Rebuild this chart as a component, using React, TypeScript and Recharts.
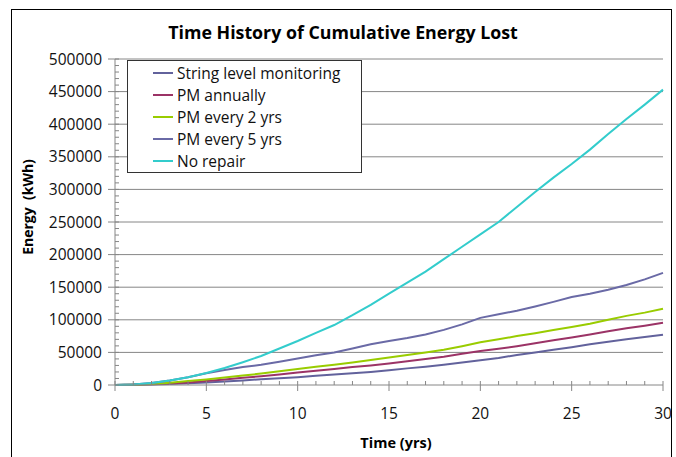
import React from 'react'
import { LineChart, Line, XAxis, YAxis, ReferenceLine, Legend } from 'recharts'

const years = [0, 1, 2, 3, 4, 5, 6, 7, 8, 9, 10, 11, 12, 13, 14, 15, 16, 17, 18, 19, 20, 21, 22, 23, 24, 25, 26, 27, 28, 29, 30]

const stringLevel = [0, 200, 600, 1500, 2600, 4000, 5500, 7000, 8800, 10500, 12000, 14000, 16000, 18000, 20000, 22500, 25500, 28000, 31000, 34500, 38000, 41500, 46000, 50000, 54000, 58000, 62500, 66500, 70000, 73500, 77000]
const pmAnnually = [0, 300, 1000, 2200, 4000, 6000, 8500, 11000, 13500, 16000, 19000, 22000, 24500, 27500, 30000, 33000, 36500, 40000, 43500, 48000, 52000, 55500, 59500, 64000, 68500, 73000, 77500, 82500, 87000, 91000, 95500]
const pm2yrs = [0, 500, 1500, 3500, 6000, 8500, 11500, 14500, 17500, 21000, 24500, 28000, 31000, 34500, 38500, 42000, 46000, 50000, 54000, 59500, 65500, 70000, 75000, 79500, 84500, 89000, 94000, 100000, 106000, 111000, 117000]
const pm5yrs = [0, 800, 3000, 6800, 12000, 18000, 23000, 27500, 31000, 35500, 40500, 45500, 50000, 56000, 62500, 67500, 72000, 77500, 84500, 93000, 103000, 108500, 114000, 120500, 127500, 135000, 140000, 146000, 153500, 162000, 172000]
const noRepair = [0, 800, 3000, 6800, 12000, 18500, 26000, 35000, 44500, 56000, 67500, 80000, 92000, 107000, 123000, 140000, 157000, 174000, 193000, 212000, 231000, 250000, 273000, 296000, 318000, 339000, 361000, 385000, 408000, 430000, 453000]

const yMajor = [0, 50000, 100000, 150000, 200000, 250000, 300000, 350000, 400000, 450000, 500000]
const xMajor = [0, 5, 10, 15, 20, 25, 30]
const yTicks = Array.from({ length: 51 }, (_, i) => i * 10000)

const series = [
  { key: 'stringLevel', name: 'String level monitoring', color: '#62629c', values: stringLevel },
  { key: 'pmAnnually', name: 'PM annually', color: '#9b3366', values: pmAnnually },
  { key: 'pm2yrs', name: 'PM every 2 yrs', color: '#99cc00', values: pm2yrs },
  { key: 'pm5yrs', name: 'PM every 5 yrs', color: '#6a6aa6', values: pm5yrs },
  { key: 'noRepair', name: 'No repair', color: '#33cccc', values: noRepair },
]

const data = years.map((t, i) => {
  const row: any = { t }
  series.forEach(s => { row[s.key] = s.values[i] })
  return row
})

const FONT = '"Open Sans", sans-serif'
const AXIS = '#868686'

const XTick = (props: any) => {
  const { x, y, payload } = props
  const major = xMajor.includes(payload.value)
  return (
    <g>
      <line x1={x} x2={x} y1={y - 4} y2={major ? y + 6 : y} stroke={AXIS} />
      {major && (
        <text x={x} y={y + 28} dy="0.355em" textAnchor="middle" fontSize={15.5} fontFamily={FONT} fill="#111">
          {payload.value}
        </text>
      )}
    </g>
  )
}

const YTick = (props: any) => {
  const { x, y, payload } = props
  const major = yMajor.includes(payload.value)
  return (
    <g>
      <line x1={major ? x - 7 : x} x2={x + 4} y1={y} y2={y} stroke={AXIS} />
      {major && (
        <text x={x - 13} y={y} dy="0.355em" textAnchor="end" fontSize={15.5} fontFamily={FONT} fill="#111">
          {payload.value}
        </text>
      )}
    </g>
  )
}

const LegendBox = () => (
  <div style={{ width: 233, height: 110, border: '1px solid #333', background: '#fff', fontFamily: FONT, fontSize: 15.5, color: '#111', paddingTop: 1 }}>
    {series.map(s => (
      <div key={s.key} style={{ height: 22, display: 'flex', alignItems: 'center' }}>
        <span style={{ display: 'inline-block', width: 20, height: 2, background: s.color, marginLeft: 25, marginRight: 4 }} />
        <span>{s.name}</span>
      </div>
    ))}
  </div>
)

export default function App() {
  return (
    <div style={{ position: 'absolute', left: 0, top: 0, width: 676, height: 457, background: '#fff', overflow: 'hidden' }}>
      <div style={{ position: 'absolute', left: 11, top: 9, width: 659, height: 470, border: '1px solid #000' }} />
      <div style={{ position: 'absolute', left: 5, top: 22, width: 676, textAlign: 'center', fontFamily: FONT, fontWeight: 700, fontSize: 17.8, lineHeight: '20px', color: '#000' }}>
        Time History of Cumulative Energy Lost
      </div>
      <div style={{ position: 'absolute', left: 0, top: 0 }}>
        <LineChart width={676} height={457} data={data} margin={{ top: 59, right: 13, left: 0, bottom: 0 }}>
          {yMajor.slice(1).map(v => (
            <ReferenceLine key={v} y={v} stroke={AXIS} strokeWidth={1} ifOverflow="extendDomain" />
          ))}
          <XAxis
            dataKey="t"
            type="number"
            domain={[0, 30]}
            ticks={years}
            interval={0}
            height={72}
            tickSize={0}
            tickMargin={0}
            tick={<XTick />}
            stroke={AXIS}
            label={{ value: 'Time (yrs)', position: 'insideBottom', offset: 9, dx: 7, style: { fontFamily: FONT, fontWeight: 700, fontSize: 14.5, fill: '#000' } }}
          />
          <YAxis
            type="number"
            domain={[0, 500000]}
            ticks={yTicks}
            interval={0}
            width={115}
            tickSize={0}
            tickMargin={0}
            tick={<YTick />}
            stroke={AXIS}
            label={{ value: 'Energy\u00A0 (kWh)', angle: -90, position: 'insideLeft', offset: 28, dy: -15, style: { textAnchor: 'middle', fontFamily: FONT, fontWeight: 700, fontSize: 14, fill: '#000' } }}
          />
          <Legend
            layout="vertical"
            align="center"
            verticalAlign="middle"
            content={<LegendBox />}
            wrapperStyle={{ position: 'absolute', left: 127, top: 60, width: 235, height: 112 }}
          />
          {series.map(s => (
            <Line key={s.key} type="linear" dataKey={s.key} name={s.name} stroke={s.color} strokeWidth={2} dot={false} isAnimationActive={false} />
          ))}
        </LineChart>
      </div>
    </div>
  )
}
